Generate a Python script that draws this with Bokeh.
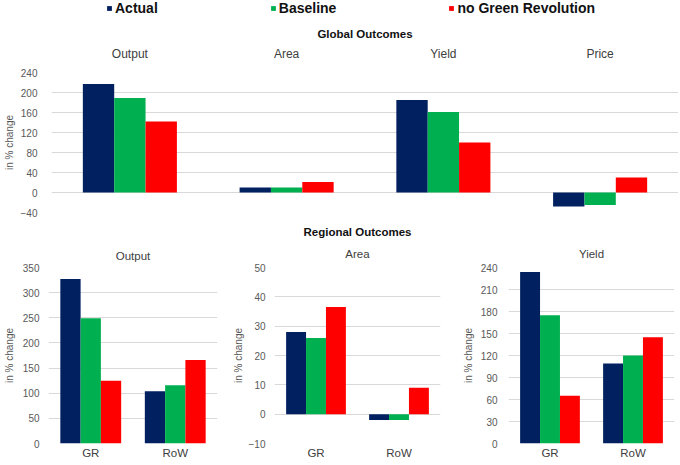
from bokeh.plotting import figure
from bokeh.models import (FactorRange, Range1d, FixedTicker, Legend, LegendItem, Title,
                          ColumnDataSource)
from bokeh.transform import dodge
from bokeh.layouts import column, row
from bokeh.embed import file_html
from bokeh.resources import INLINE

# ---------------- data ----------------
series_names = ["Actual", "Baseline", "no Green Revolution"]
series_colors = ["#002060", "#00B050", "#FF0000"]

metrics = ["Output", "Area", "Yield", "Price"]
global_actual = [217, 10, 185, -28]
global_baseline = [189, 10, 161, -25]
global_no_gr = [142, 21, 100, 30]
global_ticks = [-40, 0, 40, 80, 120, 160, 200, 240]

regions = ["GR", "RoW"]
output_actual = [327, 104]
output_baseline = [249, 116]
output_no_gr = [125, 166]
output_ticks = [0, 50, 100, 150, 200, 250, 300, 350]

area_actual = [28, -2]
area_baseline = [26, -2]
area_no_gr = [36.5, 9]
area_ticks = [-10, 0, 10, 20, 30, 40, 50]

yield_actual = [234, 109]
yield_baseline = [175, 120]
yield_no_gr = [65, 145]
yield_ticks = [0, 30, 60, 90, 120, 150, 180, 210, 240]

FONT = "Liberation Sans"
GRID = "#D9D9D9"
TICK_COLOR = "#595959"


def style(p, ticks, tick_standoff, label_standoff):
    p.outline_line_color = None
    p.background_fill_color = "white"
    p.border_fill_color = "white"
    p.xgrid.grid_line_color = None
    p.ygrid.grid_line_color = GRID
    p.ygrid.grid_line_width = 1
    p.yaxis.ticker = FixedTicker(ticks=ticks)
    for ax in p.axis:
        ax.axis_line_color = None
        ax.major_tick_line_color = None
        ax.minor_tick_line_color = None
        ax.major_tick_out = 0
        ax.major_tick_in = 0
        ax.minor_tick_out = 0
        ax.minor_tick_in = 0
        ax.major_label_text_font = FONT
    p.xaxis.axis_label = None
    p.xaxis.axis_label_standoff = 0
    p.yaxis.major_label_text_font_size = "10px"
    p.yaxis.major_label_text_color = TICK_COLOR
    p.yaxis.major_label_standoff = tick_standoff
    p.yaxis.axis_label = "in % change"
    p.yaxis.axis_label_text_font = FONT
    p.yaxis.axis_label_text_font_size = "10px"
    p.yaxis.axis_label_text_font_style = "normal"
    p.yaxis.axis_label_text_color = TICK_COLOR
    p.yaxis.axis_label_standoff = label_standoff


def bars(p, cats, vals_list, width, offsets):
    rends = []
    for vals, color, off in zip(vals_list, series_colors, offsets):
        r = p.vbar(x=dodge("cat", off, range=p.x_range), top="val", bottom=0,
                   width=width, source=ColumnDataSource(dict(cat=cats, val=vals)),
                   fill_color=color, line_color=None)
        rends.append(r)
    return rends


# ---------------- legend strip ----------------
# swatch renderers carry the global series but sit outside this strip's y-range,
# so only their legend entries are visible
leg = figure(width=678, height=17, x_range=FactorRange(*metrics), y_range=Range1d(1000, 1001),
             output_backend="svg", toolbar_location=None,
             x_axis_type=None, y_axis_type=None,
             min_border_left=0, min_border_right=0, min_border_top=0, min_border_bottom=0)
leg.outline_line_color = None
leg.xgrid.grid_line_color = None
leg.ygrid.grid_line_color = None
swatches = bars(leg, metrics, [global_actual, global_baseline, global_no_gr], 0.2, [-0.2, 0, 0.2])
legend = Legend(items=[LegendItem(label=n, renderers=[r]) for n, r in zip(series_names, swatches)],
                orientation="horizontal", glyph_width=6, glyph_height=6,
                label_standoff=3, spacing=112, padding=0, margin=0,
                label_height=15, border_line_color=None, background_fill_alpha=0,
                label_text_font=FONT, label_text_font_size="14px",
                label_text_font_style="bold", label_text_color="#111111",
                location=(55, 1))
leg.add_layout(legend)

# ---------------- global chart ----------------
g = figure(width=678, height=200, x_range=FactorRange(*metrics),
           y_range=Range1d(-40, 240), output_backend="svg", toolbar_location=None,
           x_axis_location="above", min_border_left=49, min_border_right=0,
           min_border_top=55, min_border_bottom=5)
style(g, global_ticks, 14, 3)
bars(g, metrics, [global_actual, global_baseline, global_no_gr], 0.2, [-0.2, 0, 0.2])
g.xaxis.major_label_text_font_size = "12px"
g.xaxis.major_label_text_color = "#404040"
g.xaxis.major_label_standoff = 12
g.add_layout(Title(text="Global Outcomes", align="center", text_font=FONT,
                   text_font_size="11.5px", text_font_style="bold",
                   text_color="#111111", standoff=8), "above")


# ---------------- regional charts ----------------
def regional(width, ticks, yr, vals_list, bl, br, title, tick_standoff,
             label_standoff, title_standoff):
    p = figure(width=width, height=245, x_range=FactorRange(*regions),
               y_range=Range1d(*yr), output_backend="svg", toolbar_location=None,
               min_border_left=bl, min_border_right=br, min_border_top=50,
               min_border_bottom=19)
    style(p, ticks, tick_standoff, label_standoff)
    bars(p, regions, vals_list, 0.24, [-0.24, 0, 0.24])
    p.xaxis.major_label_text_font_size = "11.5px"
    p.xaxis.major_label_text_color = "#404040"
    p.xaxis.major_label_standoff = 3
    p.add_layout(Title(text=title, align="center", text_font=FONT,
                       text_font_size="11.5px", text_font_style="normal",
                       text_color="#404040", standoff=title_standoff), "above")
    return p


p_out = regional(229, output_ticks, (0, 350),
                 [output_actual, output_baseline, output_no_gr],
                 47, 12, "Output", 9, 5, 12)
p_area = regional(230, area_ticks, (-10, 50),
                  [area_actual, area_baseline, area_no_gr],
                  42, 19, "Area", 9, 2, 15)
p_area.add_layout(Title(text="Regional Outcomes", align="center", text_font=FONT,
                        text_font_size="11.5px", text_font_style="bold",
                        text_color="#111111", standoff=2), "above")
p_yld = regional(219, yield_ticks, (0, 240),
                 [yield_actual, yield_baseline, yield_no_gr],
                 47, 4, "Yield", 11, 4, 16)

layout = column(leg, g, row(p_out, p_area, p_yld))

open("out.html", "w").write(file_html(layout, INLINE))
